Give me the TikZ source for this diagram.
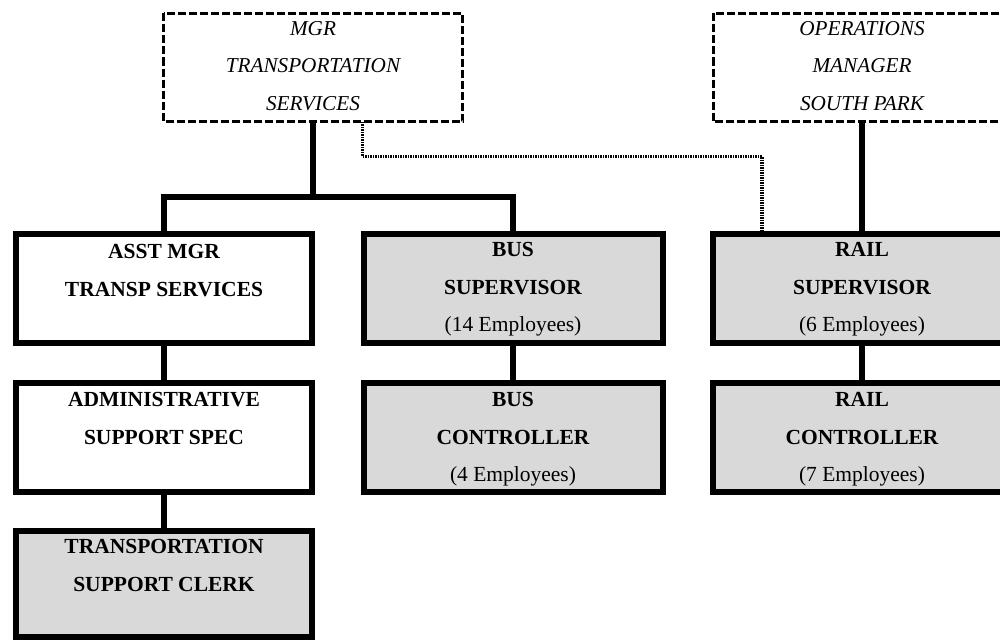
\documentclass[tikz,border=0pt]{standalone}
\usepackage{fontspec}
\setmainfont{Liberation Serif}
\begin{document}
\begin{tikzpicture}[x=1pt,y=-1pt,
  solidbox/.style={draw=black,line width=6pt},
  graybox/.style={solidbox,fill=boxgray},
  headbox/.style={draw=black,line width=3pt,dash pattern=on 8pt off 3pt},
  link/.style={draw=black,line width=6pt},
  dottedlink/.style={draw=black,line width=3.5pt,dash pattern=on 1.5pt off 1pt},
  boxtext/.style={anchor=north,inner sep=0pt,align=center,
    font=\fontsize{21.5}{37.5}\selectfont\bfseries},
  headtext/.style={anchor=north,inner sep=0pt,align=center,
    font=\fontsize{21.2}{37.2}\selectfont\itshape},
]
\definecolor{boxgray}{HTML}{D9D9D9}
\useasboundingbox (0,0) rectangle (1000,642);
\clip (0,0) rectangle (1000,642);

% junction points of the reporting lines
\coordinate (mgrjoin) at (313,196.5);
\coordinate (leftjoin) at (164,196.5);
\coordinate (busjoin) at (513,196.5);
\coordinate (dotA) at (362.5,156.5);
\coordinate (dotB) at (762,156.5);

% dashed heads
\draw[headbox] (163.5,13.5) rectangle (462.7,121.5);
\coordinate (mgrS) at (313,121.5);
\coordinate (mgrDot) at (362.5,121.5);
\draw[headbox] (713,13.5) rectangle (1012,121.5);
\coordinate (opsS) at (862,121.5);

% solid boxes
\draw[solidbox] (16,233.5) rectangle (311.5,342.5);
\coordinate (asstN) at (164,233.5);
\coordinate (asstS) at (164,342.5);
\draw[graybox] (363.7,233.5) rectangle (663,342.5);
\coordinate (busN) at (513,233.5);
\coordinate (busS) at (513,342.5);
\draw[graybox] (713,233.5) rectangle (1012,342.5);
\coordinate (railN) at (862,233.5);
\coordinate (railS) at (862,342.5);
\coordinate (railDot) at (762,233.5);

\draw[solidbox] (16,382.5) rectangle (311.5,491.5);
\coordinate (adminN) at (164,382.5);
\coordinate (adminS) at (164,491.5);
\draw[graybox] (363.7,382.5) rectangle (663,491.5);
\coordinate (busctlN) at (513,382.5);
\draw[graybox] (713,382.5) rectangle (1012,491.5);
\coordinate (railctlN) at (862,382.5);

\draw[graybox] (16,531) rectangle (311.5,636.5);
\coordinate (clerkN) at (164,531);

% reporting lines
\draw[link] (mgrS) -- (mgrjoin);
\draw[link,line cap=rect] (leftjoin) -- (busjoin);
\draw[link] (leftjoin) -- (asstN);
\draw[link] (busjoin) -- (busN);
\draw[link] (asstS) -- (adminN);
\draw[link] (adminS) -- (clerkN);
\draw[link] (busS) -- (busctlN);
\draw[link] (opsS) -- (railN);
\draw[link] (railS) -- (railctlN);
\draw[dottedlink] (mgrDot) -- (dotA) -- (dotB) -- (railDot);

% labels
\node[headtext] (mgrtxt) at (313,21.5) {MGR\\TRANSPORTATION\\SERVICES};
\node[headtext] (opstxt) at (862,21.5) {OPERATIONS\\MANAGER\\SOUTH PARK};
\node[boxtext] (asst) at (164,244.5) {ASST MGR\\TRANSP SERVICES};
\node[boxtext] (bus) at (513,242.5) {BUS\\SUPERVISOR\\{\mdseries (14 Employees)}};
\node[boxtext] (rail) at (862,242.5) {RAIL\\SUPERVISOR\\{\mdseries (6 Employees)}};
\node[boxtext] (admin) at (164,392.5) {ADMINISTRATIVE\\SUPPORT SPEC};
\node[boxtext] (busctl) at (513,392.5) {BUS\\CONTROLLER\\{\mdseries (4 Employees)}};
\node[boxtext] (railctl) at (862,392.5) {RAIL\\CONTROLLER\\{\mdseries (7 Employees)}};
\node[boxtext] (clerk) at (164,539.5) {TRANSPORTATION\\SUPPORT CLERK};
\end{tikzpicture}
\end{document}
